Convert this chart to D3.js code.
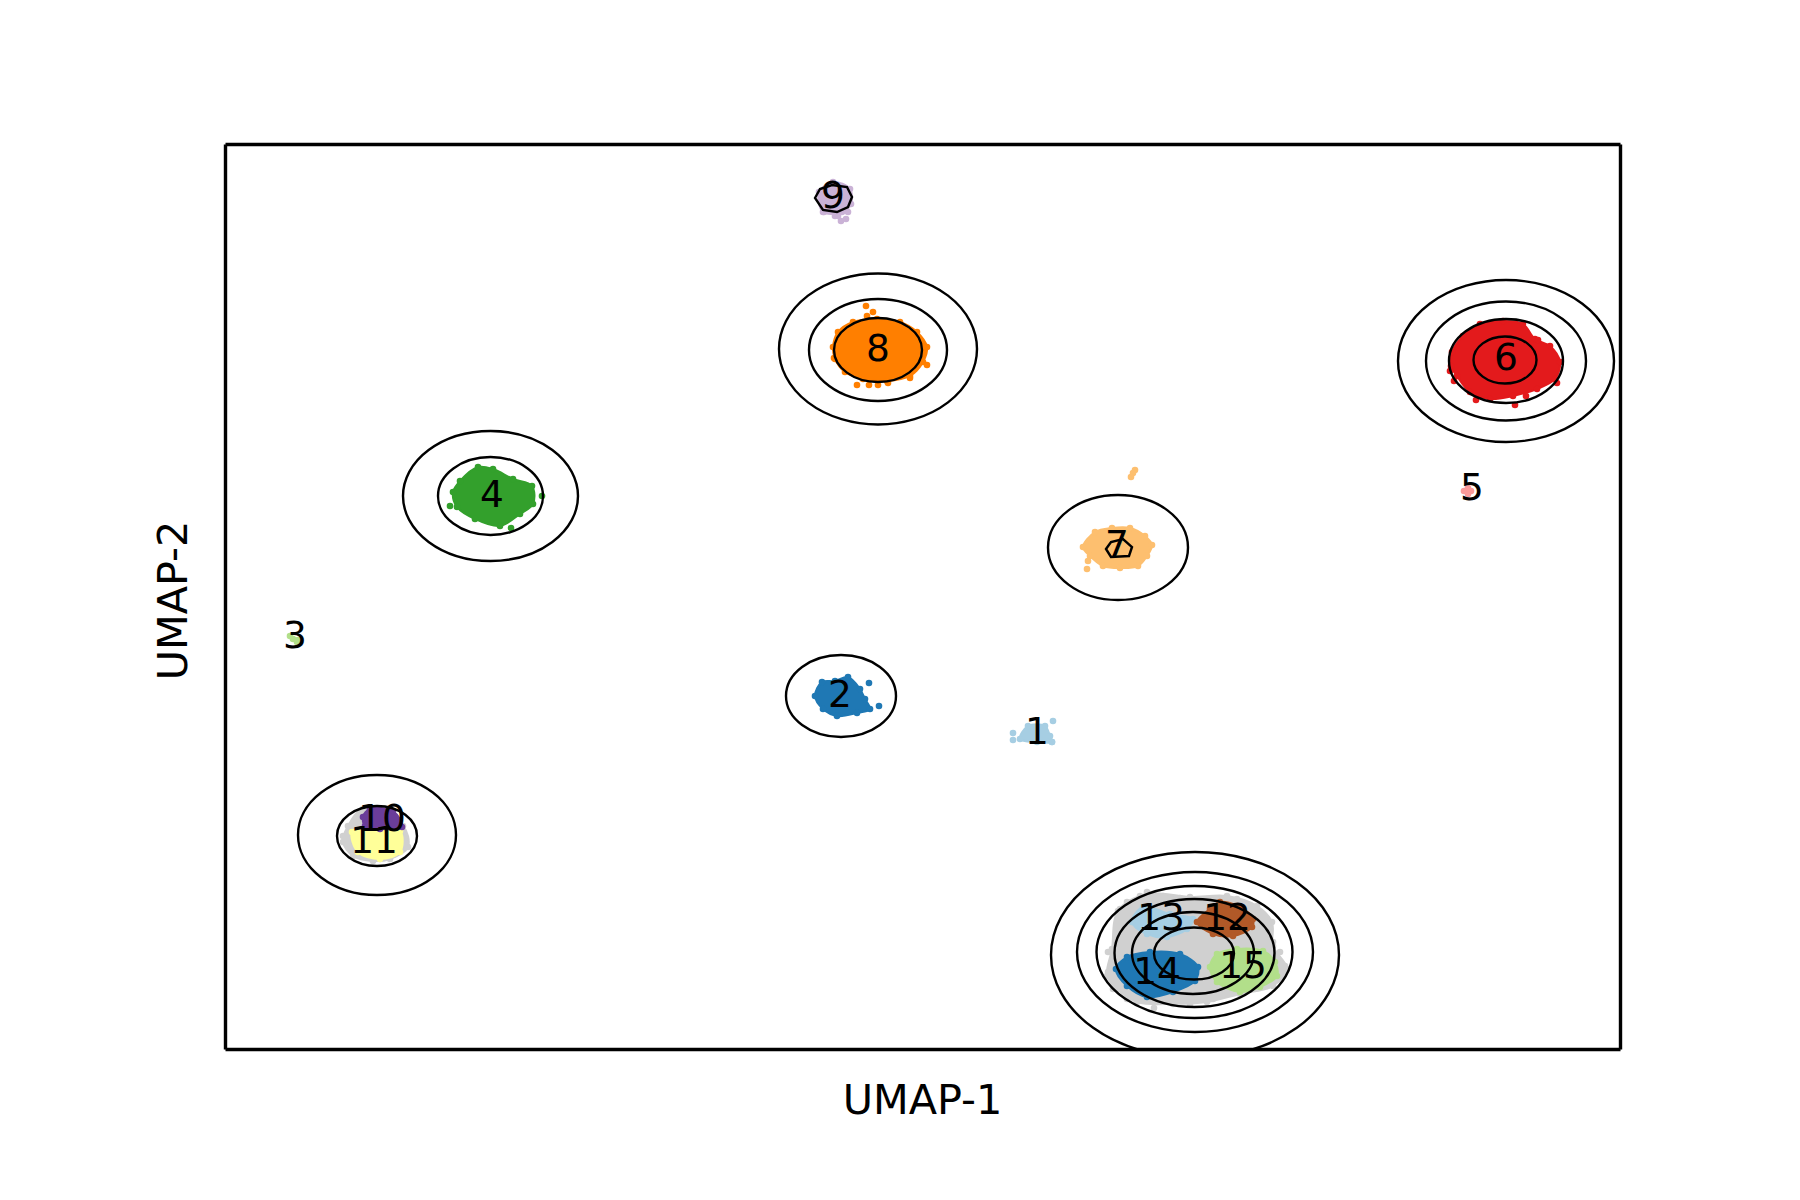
<!DOCTYPE html>
<html>
<head>
<meta charset="utf-8">
<script src="https://cdn.jsdelivr.net/npm/d3@7"></script>
<style>
    html, body { margin: 0; padding: 0; background: #fff; }
    text { font-family: "DejaVu Sans", sans-serif; fill: #000; }
</style>
</head>
<body>
<div id="chart"></div>
<script>
// embedding values; axis has no ticks so units are arbitrary
const x_extent = [0, 139.5];
const y_extent = [0, 90.5];

const paired_colors = ['#a6cee3', '#1f78b4', '#b2df8a', '#33a02c', '#fb9a99', '#e31a1c', '#fdbf6f', '#ff7f00', '#cab2d6', '#6a3d9a', '#ffff99', '#b15928'];
const noise_color = '#d0d0d0';

// noise points around the two mixed groups
const noise_big = [[88.2,7.3],[88.7,10],[89.3,13.8],[92.2,15.5],[96.5,15.2],[100.2,15.3],[103.2,14.3],[104.7,12.7],[104.8,10.3],[106.2,8],[104.8,6.3],[101.5,5.5],[98.2,4.7],[94.8,4.5],[91.2,4.7],[89.2,6]];
const noise_big_extra = [[92.9,4.1],[89.5,14],[90.2,14.7],[91.5,15.3],[92.2,15.7],[93.8,15.3],[95.5,15.1],[98.2,15],[101.2,15],[102.8,14.2],[104.2,13],[88.3,9.7],[88.3,7.7],[88.8,6],[90.2,5],[93.2,4.7],[96.5,4.5],[98.8,5],[104.2,6.3],[105.8,7.3],[106,8.3],[105.5,9.7],[104.8,10.7]];
const noise_small = [[11.8,20.7],[12.3,22.3],[13.8,24],[17.8,22.3],[18.3,20.2],[16.5,19],[14.8,18.8],[12.8,19.3]];
const noise_small_extra = [[11.8,21.3],[12.2,20.5],[13,19.5],[14.2,19.2],[15.5,19],[16.8,19.4],[18,20.2],[17.9,21.3],[13.2,23]];

// cluster outlines (walked around the edge of each point cloud)
const cluster_1 = [[79.5,31],[80.3,32.3],[82,32.3],[82.5,31.3],[82.7,30.7],[81.2,30.7]];
const cluster_2 = [[59,35.3],[59.7,36.7],[61,36.8],[62.3,37.2],[63.5,36],[64,35],[64.5,34],[63.2,33.6],[61.2,33.3],[59.8,34]];
const cluster_3 = [[6.5,41.3],[6.8,41],[7.2,40.7],[7.3,40.9]];
const cluster_4 = [[22.8,55.7],[23.5,56.8],[25.3,58.2],[26.8,58],[28.8,57],[30.7,56.3],[30.8,54.5],[29.5,53.5],[27.5,52.3],[25,53],[23.2,54.2]];
const cluster_5 = [[123.9,55.8],[124.6,55.8],[124.3,55.5],[124.3,56.1]];
const cluster_6 = [[122.7,69.7],[123.8,71.3],[125.5,72.5],[127.8,72.8],[129.8,72.5],[131,71],[132.5,70.3],[133.5,68.7],[133,67],[131.2,66],[128.8,65.3],[126.5,65],[124.5,65.7],[123.2,67.3],[122.6,68.3]];
const cluster_7 = [[85.8,50.2],[87,51.7],[88.7,52.1],[90.5,52.1],[92,51.3],[92.7,50.4],[92.2,49.3],[91.3,48.3],[89.5,48.1],[87.8,48.3],[86.5,49.3]];
const cluster_8 = [[60.8,70.2],[61.3,71.7],[62.8,72.7],[65.2,73],[67.5,72.7],[69.2,71.7],[70.2,70.2],[69.8,68.7],[68.5,67.3],[66.2,66.8],[63.8,67],[62,67.7],[61,69]];
const cluster_9 = [[59.4,85.7],[60.8,86.7],[62.5,86],[62.6,84.5],[61.7,83.7],[59.8,83.7]];
const cluster_10 = [[13.8,23.2],[14.5,24],[16.8,23.8],[17.7,22.2],[15.5,22],[14,22.3]];
const cluster_11 = [[12.7,21.7],[14.2,22.2],[17.5,21.8],[17.5,19.7],[15.5,19],[13.3,19.7]];
const cluster_12 = [[97.2,12.7],[98.5,14],[99.5,14.7],[101.5,14.2],[102.8,13],[102.7,12.2],[100.8,11.3],[98.8,11.5]];
const cluster_13 = [[90.7,12.7],[91.8,14.2],[94.5,13.5],[96.8,13],[96.2,12],[94.2,11.2],[92.2,11.5]];
const cluster_14 = [[89.1,8],[90.2,9.2],[92.5,9.7],[95.5,9.5],[97.3,8.2],[97,6.8],[94.8,5.7],[92.2,5.2],[90.2,6.3]];
const cluster_15 = [[98.5,8.2],[99.2,9.5],[101.2,10],[103.8,9.8],[105,8.7],[105.2,7.3],[103.5,6.2],[101.5,5.7],[99.2,6.7]];

// single points outside the main cloud of each cluster
const strays_1 = [[82.8,32.8],[78.8,31.6],[78.8,30.9],[82.7,30.7]];
const strays_2 = [[64.4,36.6],[65.4,34.3]];
const strays_4 = [[22.5,54.3],[31.7,55.3],[28.6,52.1]];
const strays_6 = [[122.5,67.8],[122.9,66.8],[125.1,64.9],[129,64.4],[130.1,65.3],[133.2,66.6],[131.3,70.9]];
const strays_7 = [[86.3,48.8],[86.2,48],[91,57.9],[90.8,57.6],[90.6,57.2]];
const strays_8 = [[64.1,74.3],[64.8,73.7],[64.2,73.3],[63.2,66.4],[64.4,66.4],[65.3,66.4],[66.3,66.6],[68.5,67.1],[70.2,68.4],[60.9,69.1]];
const strays_9 = [[59.9,83.7],[61,83.3],[61.6,82.8],[62.1,83],[62.3,83.7],[61.3,83.3]];

const clusters = [
    [cluster_1, strays_1, 0], [cluster_2, strays_2, 1], [cluster_3, [], 2], [cluster_4, strays_4, 3],
    [cluster_5, [], 4], [cluster_6, strays_6, 5], [cluster_7, strays_7, 6], [cluster_8, strays_8, 7],
    [cluster_9, strays_9, 8], [cluster_11, [], 10], [cluster_10, [], 9], [cluster_13, [], 0],
    [cluster_12, [], 11], [cluster_14, [], 1], [cluster_15, [], 2]
];

// density contours: centre x, centre y, radius x, radius y
const contour_rings = [
    [97,9.4,14.4,10.3],[97,9.7,11.8,8],[96.95,9.7,9.8,6.6],[96.95,9.6,8,5.4],[96.8,9.6,6.1,4.1],[96.9,9.55,4,2.6],
    [128.1,68.8,10.8,8.1],[128.1,68.8,8,5.95],[128.1,68.8,5.7,4.2],[128,68.9,3.15,2.35],
    [65.3,70,9.9,7.55],[65.3,69.9,6.9,5.1],[65.3,69.9,4.4,3.2],
    [26.55,55.3,8.75,6.5],[26.55,55.3,5.25,3.9],
    [15.2,21.4,7.9,6],[15.2,21.3,4,3],
    [89.3,50.15,7,5.25],
    [61.6,35.3,5.5,4.1]
];
const contour_small_7 = [[88.1,50],[88.6,50.7],[89.8,51],[90.7,50.2],[90.4,49.3],[88.6,49.2]];
const contour_small_9 = [[59,85.1],[59.5,86],[60.7,86.4],[62.2,86.2],[62.7,85.2],[62.3,84.2],[61.2,83.7],[59.8,83.9]];

const label_names = ['1','2','3','4','5','6','7','8','9','10','11','12','13','14','15'];
const label_x = [81.2,61.5,7,26.7,124.7,128.1,89.2,65.3,60.8,15.7,14.9,100.2,93.6,93.2,101.8];
const label_y = [31.9,35.6,41.5,55.6,56.3,69.3,50.6,70.2,85.5,23.2,21,13.3,13.3,7.9,8.5];

const width = 1800, height = 1200;
const plot_left = 225, plot_right = 1620, plot_top = 144, plot_bottom = 1049;
const point_radius = 3.3;

let x = d3.scaleLinear().domain(x_extent).range([plot_left, plot_right]);
let y = d3.scaleLinear().domain(y_extent).range([plot_bottom, plot_top]);

let svg = d3.select('#chart').append('svg')
    .attr('width', width)
    .attr('height', height)
    .style('display', 'block');

svg.append('clipPath').attr('id', 'plot_clip').append('rect')
    .attr('x', plot_left)
    .attr('y', plot_top)
    .attr('width', plot_right - plot_left)
    .attr('height', plot_bottom - plot_top);

let plot = svg.append('g').attr('clip-path', 'url(#plot_clip)');

let outline = d3.line().x(d => x(d[0])).y(d => y(d[1])).curve(d3.curveCatmullRomClosed.alpha(0.5));
let polygon = d3.line().x(d => x(d[0])).y(d => y(d[1])).curve(d3.curveLinearClosed);

function draw_cloud(hull, extra, color) {
    plot.append('path')
        .attr('d', outline(hull))
        .attr('fill', color)
        .attr('stroke', color)
        .attr('stroke-width', 2)
        .attr('stroke-linejoin', 'round');

    plot.selectAll(null)
        .data(hull.concat(extra))
        .enter()
        .append('circle')
        .attr('cx', d => x(d[0]))
        .attr('cy', d => y(d[1]))
        .attr('r', point_radius)
        .attr('fill', color);
}

draw_cloud(noise_big, noise_big_extra, noise_color);
draw_cloud(noise_small, noise_small_extra, noise_color);
clusters.forEach(c => draw_cloud(c[0], c[1], paired_colors[c[2]]));

// ellipses go through the scales so they stay in data units
plot.selectAll(null)
    .data(contour_rings)
    .enter()
    .append('ellipse')
    .attr('cx', d => x(d[0]))
    .attr('cy', d => y(d[1]))
    .attr('rx', d => x(d[0] + d[2]) - x(d[0]))
    .attr('ry', d => y(d[1]) - y(d[1] + d[3]))
    .attr('fill', 'none')
    .attr('stroke', '#000')
    .attr('stroke-width', 2.4);

[contour_small_7, contour_small_9].forEach(function (ring) {
    plot.append('path')
        .attr('d', polygon(ring))
        .attr('fill', 'none')
        .attr('stroke', '#000')
        .attr('stroke-width', 2.4);
});

svg.selectAll(null)
    .data(label_names)
    .enter()
    .append('text')
    .attr('x', (d, i) => x(label_x[i]))
    .attr('y', (d, i) => y(label_y[i]) + 13.5)
    .attr('text-anchor', 'middle')
    .style('font-size', '37.5px')
    .text(d => d);

// frame only, the axes carry no ticks
let frame_axes = [
    [d3.axisBottom(x), 0, plot_bottom],
    [d3.axisTop(x), 0, plot_top],
    [d3.axisLeft(y), plot_left, 0],
    [d3.axisRight(y), plot_right, 0]
];
frame_axes.forEach(function (a) {
    let g = svg.append('g')
        .attr('transform', 'translate(' + a[1] + ',' + a[2] + ')')
        .call(a[0].tickValues([]).tickSizeOuter(0));
    g.select('.domain').attr('stroke', '#000').attr('stroke-width', 3.4);
});

svg.append('text')
    .attr('x', (plot_left + plot_right) / 2)
    .attr('y', 1114)
    .attr('text-anchor', 'middle')
    .style('font-size', '41.4px')
    .text('UMAP-1');

svg.append('text')
    .attr('transform', 'translate(187,' + ((plot_top + plot_bottom) / 2 + 4) + ') rotate(-90)')
    .attr('text-anchor', 'middle')
    .style('font-size', '41.4px')
    .text('UMAP-2');
</script>
</body>
</html>
